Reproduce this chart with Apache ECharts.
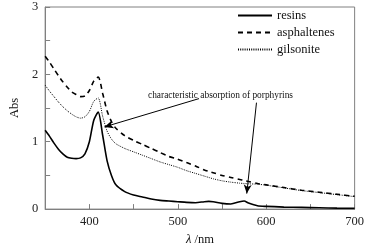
<!DOCTYPE html>
<html>
<head>
<meta charset="utf-8">
<script src="https://cdn.jsdelivr.net/npm/echarts@6/dist/echarts.min.js"></script>
<style>
  html, body { margin: 0; padding: 0; background: #fff; }
  #chart { width: 367px; height: 251px; }
</style>
</head>
<body>
<div id="chart"></div>
<script>
// Longitudes de onda (nm)
const wavelengths = [350,355,360,365,370,375,380,385,390,395,400,405,410,415,420,425,430,440,450,460,470,480,490,500,510,520,530,535,540,550,560,570,575,580,590,600,620,640,660,680,700];

// Absorbancia de cada muestra
const resins = [1.17,1.08,0.98,0.89,0.82,0.77,0.755,0.75,0.76,0.82,1.0,1.32,1.44,1.1,0.72,0.5,0.36,0.26,0.21,0.18,0.15,0.13,0.12,0.11,0.1,0.095,0.11,0.115,0.11,0.085,0.075,0.11,0.12,0.09,0.05,0.04,0.03,0.025,0.02,0.015,0.012];
const asphaltenes = [2.27,2.18,2.08,1.98,1.89,1.81,1.74,1.70,1.67,1.68,1.76,1.90,1.96,1.72,1.46,1.3,1.2,1.09,1.02,0.96,0.9,0.84,0.78,0.74,0.69,0.64,0.58,0.56,0.54,0.5,0.47,0.44,0.425,0.41,0.38,0.36,0.32,0.28,0.25,0.22,0.19];
const gilsonite = [1.84,1.75,1.67,1.59,1.52,1.46,1.41,1.37,1.35,1.37,1.45,1.6,1.65,1.38,1.16,1.04,0.97,0.9,0.85,0.8,0.75,0.7,0.66,0.62,0.57,0.53,0.49,0.47,0.45,0.42,0.4,0.385,0.38,0.375,0.37,0.355,0.315,0.275,0.245,0.215,0.185];

const seriesNames = ["resins", "asphaltenes", "gilsonite"];
const xTicks = [400, 500, 600, 700];
const yTicks = [0, 1, 2, 3];

// Flechas de la anotación (inicio -> punta), en coordenadas de datos
const arrowSoret = [[524, 1.64], [417, 1.22]];
const arrowQband = [[589, 1.58], [578, 0.23]];
const annotationText = "characteristic absorption of porphyrins";

const FONT = "'Liberation Serif', 'Times New Roman', serif";

function pairs(ys) {
  return wavelengths.map((x, i) => [x, ys[i]]);
}

const chart = echarts.init(document.getElementById("chart"));

const option = {
  animation: false,
  backgroundColor: "#fff",
  grid: {
    left: 40, right: 11, top: 7, bottom: 36,
    show: true, borderColor: "#808080", borderWidth: 1
  },
  legend: {
    orient: "vertical",
    left: 237, top: 9, padding: 0,
    itemWidth: 34, itemHeight: 12, itemGap: 4,
    data: seriesNames,
    itemStyle: { opacity: 0 },
    textStyle: { fontFamily: FONT, fontSize: 12.5, color: "#111" }
  },
  xAxis: {
    type: "value",
    min: 350, max: 700, interval: 50,
    name: "{i|λ} /nm",
    nameLocation: "middle",
    nameGap: 23,
    nameTextStyle: {
      fontFamily: FONT, fontSize: 12.5, color: "#111",
      rich: { i: { fontFamily: FONT, fontSize: 12.5, fontStyle: "italic", color: "#111" } }
    },
    axisLine: { lineStyle: { color: "#808080", width: 1 } },
    axisTick: { inside: true, length: 5, lineStyle: { color: "#808080" } },
    axisLabel: {
      margin: 6, fontFamily: FONT, fontSize: 12.5, color: "#222",
      formatter: (v) => (xTicks.includes(v) ? String(v) : "")
    },
    splitLine: { show: false }
  },
  yAxis: {
    type: "value",
    min: 0, max: 3, interval: 0.5,
    name: "Abs",
    nameLocation: "middle",
    nameGap: 22,
    nameTextStyle: { fontFamily: FONT, fontSize: 12.5, color: "#111" },
    axisLine: { show: true, lineStyle: { color: "#808080", width: 1 } },
    axisTick: { inside: true, length: 5, lineStyle: { color: "#808080" } },
    axisLabel: {
      margin: 7, fontFamily: FONT, fontSize: 12.5, color: "#222",
      formatter: (v) => (yTicks.includes(v) ? String(v) : "")
    },
    splitLine: { show: false }
  },
  graphic: [
    {
      type: "text",
      left: 148, top: 91,
      style: { text: annotationText, font: "9.4px " + FONT, fill: "#111" }
    }
  ],
  series: [
    {
      name: seriesNames[0], type: "line", data: pairs(resins),
      smooth: 0.25, symbol: "none",
      lineStyle: { color: "#000", width: 1.6, type: "solid" },
      itemStyle: { color: "#000" },
      markLine: {
        silent: true, symbol: ["none", "arrow"], symbolSize: [6, 9],
        label: { show: false },
        lineStyle: { color: "#000", width: 1, type: "solid" },
        data: [
          [{ coord: arrowSoret[0] }, { coord: arrowSoret[1] }],
          [{ coord: arrowQband[0] }, { coord: arrowQband[1] }]
        ]
      }
    },
    {
      name: seriesNames[1], type: "line", data: pairs(asphaltenes),
      smooth: 0.25, symbol: "none",
      lineStyle: { color: "#000", width: 1.6, type: [5, 4] },
      itemStyle: { color: "#000" }
    },
    {
      name: seriesNames[2], type: "line", data: pairs(gilsonite),
      smooth: 0.25, symbol: "none",
      lineStyle: { color: "#000", width: 1, type: [1, 1.2] },
      itemStyle: { color: "#000" }
    }
  ]
};

chart.setOption(option);
</script>
</body>
</html>
